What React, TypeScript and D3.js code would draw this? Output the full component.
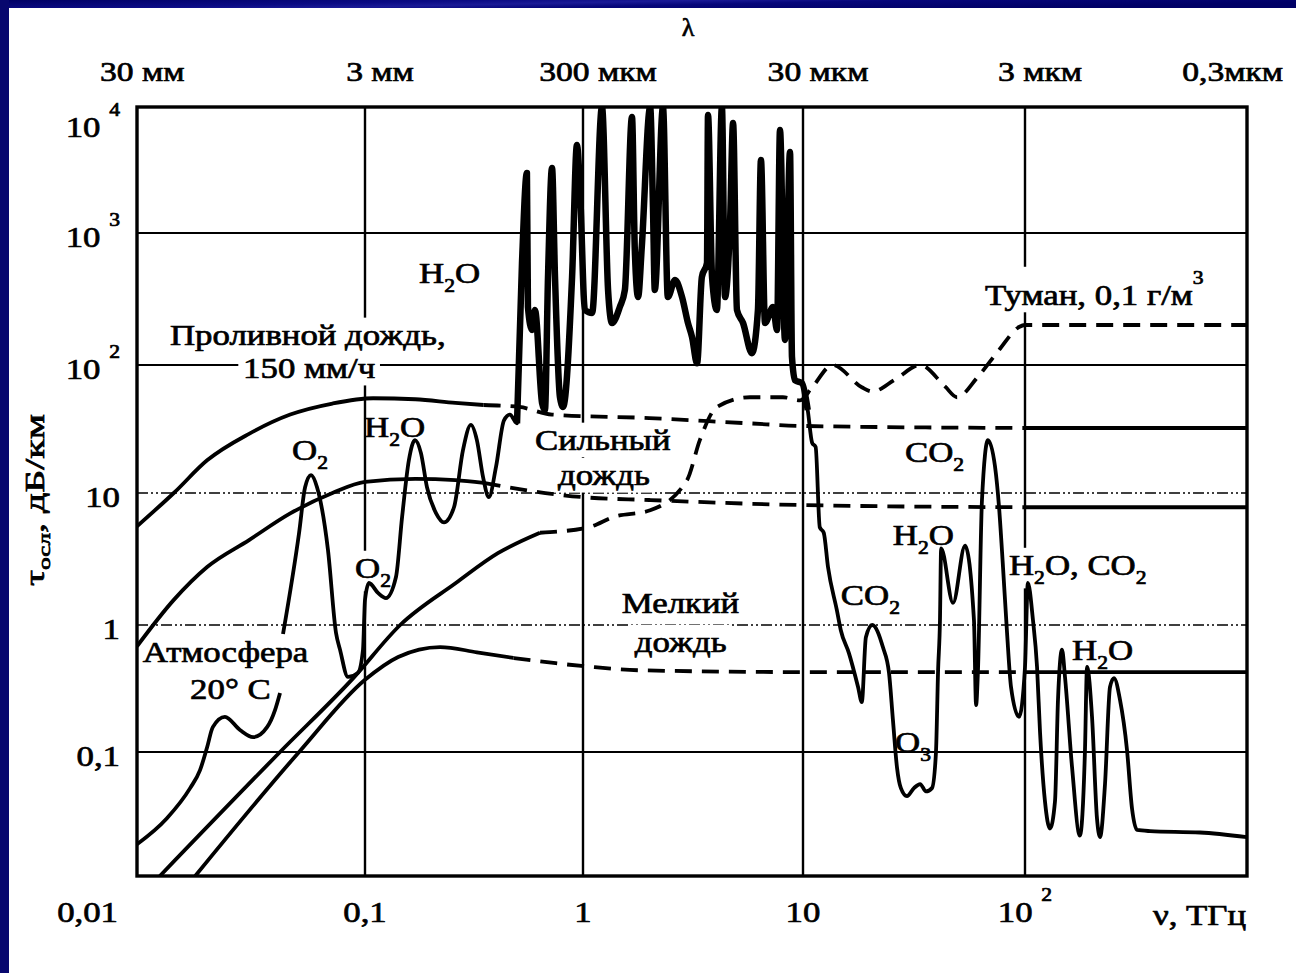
import React, { useEffect, useRef } from "react";
import * as d3 from "d3";

const W = 1296;
const H = 973;

// Axis calibration of the scanned figure (decade positions)
const xDecades = [0.01, 0.1, 1, 10, 100, 1000];
const xDecadePx = [137, 365, 583, 803, 1025, 1247];
const yDecades = [0.0106, 0.1, 1, 10, 100, 1000, 10000];
const yDecadePx = [876, 752, 625, 493, 365, 233, 107];

// Tick labels
const xTickValues = [0.01, 0.1, 1, 10, 100];
const xTickLabels = ["0,01", "0,1", "1", "10", "10 ^2"];
const yTickValues = [0.1, 1, 10, 100, 1000, 10000];
const yTickLabels = ["0,1", "1", "10", "10 ^2", "10 ^3", "10 ^4"];
const wavelengthValues = [0.01, 0.1, 1, 10, 100, 1000];
const wavelengthLabels = ["30 мм", "3 мм", "300 мкм", "30 мкм", "3 мкм", "0,3мкм"];
const dashDotGridValues = [1, 10];
const solidGridValues = [0.1, 100, 1000];
const verticalGridValues = [0.1, 1, 10, 100];

// Series: [frequency THz, attenuation dB/km]
const rainTorrential: [number, number][] = [
  [0.01, 5.6], [0.0145, 10], [0.0203, 18], [0.031, 29], [0.047, 41], [0.072, 50],
  [0.109, 55], [0.17, 54], [0.26, 50.5], [0.35, 48.7], [0.51, 47], [0.72, 41],
  [2.0, 38.5], [5.7, 35], [10, 33.4], [100, 32.2], [1000, 32.2],
];
const rainTorrentialDash = [0.35, 100];

const rainHeavy: [number, number][] = [
  [0.01, 0.68], [0.0145, 1.55], [0.0203, 2.75], [0.031, 4.4], [0.047, 7.0], [0.072, 10],
  [0.1, 12.2], [0.17, 12.9], [0.26, 12.6], [0.35, 12], [0.51, 10.7], [1.0, 9.3],
  [2.0, 8.85], [10, 8.1], [100, 7.8], [1000, 7.8],
];
const rainHeavyDash = [0.35, 100];

const rainLight: [number, number][] = [
  [0.018, 0.0106], [0.0514, 0.1], [0.1, 0.37], [0.142, 0.56], [0.221, 0.67], [0.326, 0.61],
  [0.48, 0.55], [0.75, 0.5], [1.06, 0.47], [1.8, 0.44], [10, 0.426], [100, 0.426], [1000, 0.426],
];
const rainLightDash = [0.48, 100];

const fog: [number, number][] = [
  [0.0126, 0.0106], [0.0424, 0.1], [0.0886, 0.38], [0.145, 1.0], [0.261, 2.08], [0.407, 3.5],
  [0.635, 5.0], [1.06, 5.5], [1.38, 6.6], [2.02, 7.4], [2.97, 12.6], [3.4, 26], [4.06, 47],
  [5.74, 56], [8.1, 56], [9.7, 53], [11, 67], [13.6, 100], [18.4, 67], [20.5, 62], [26, 77],
  [33.7, 100], [43.6, 68], [49.4, 56], [61.4, 81], [76.4, 130], [94, 194], [100, 201], [1000, 201],
];
const fogDash = [0.635, 1000];

const atmosphereLow: [number, number][] = [
  [0.01, 0.0188], [0.0135, 0.03], [0.0171, 0.052], [0.0189, 0.072], [0.0203, 0.109],
  [0.0215, 0.157], [0.0243, 0.189], [0.0283, 0.149], [0.0323, 0.131], [0.0372, 0.157],
  [0.0403, 0.214], [0.0424, 0.292],
];

const atmosphereHigh: [number, number][] = [
  [0.0437, 0.85], [0.0514, 5.0], [0.0546, 11.1], [0.058, 13.8], [0.0616, 11.1], [0.0688, 3.7],
  [0.0746, 0.87], [0.0777, 0.64], [0.0842, 0.39], [0.0931, 0.42], [0.098, 0.64], [0.1, 1.55],
  [0.1043, 2.08], [0.1147, 1.75], [0.1248, 1.6], [0.1387, 2.31], [0.148, 6.6], [0.159, 18.1],
  [0.1696, 25.9], [0.1806, 20.5], [0.1924, 11.1], [0.2117, 7.05], [0.2303, 6.0], [0.256, 7.8],
  [0.2816, 21.7], [0.306, 34], [0.326, 25.9], [0.348, 13.3], [0.37, 9.3], [0.399, 16],
  [0.434, 37], [0.462, 41], [0.498, 35], [0.525, 593], [0.553, 3000], [0.559, 275],
  [0.584, 184], [0.602, 261], [0.649, 50.5], [0.669, 44.5], [0.691, 464], [0.721, 3280],
  [0.744, 464], [0.784, 56], [0.81, 47], [0.891, 464], [0.938, 4990], [0.969, 2195],
  [1.02, 261], [1.1, 248], [1.22, 10000], [1.3, 370], [1.355, 208], [1.47, 275], [1.55, 370],
  [1.67, 8330], [1.72, 743], [1.78, 327], [1.85, 783], [2.02, 10000], [2.08, 1608],
  [2.12, 370], [2.31, 10000], [2.43, 327], [2.62, 440], [2.82, 327], [3.0, 208], [3.13, 163],
  [3.3, 103], [3.47, 464], [3.66, 593], [3.7, 8640], [3.86, 464], [4.06, 261], [4.28, 10000],
  [4.42, 327], [4.66, 1200], [4.81, 7465], [5.01, 261], [5.34, 208], [5.86, 123], [6.24, 261],
  [6.44, 3800], [6.72, 208], [7.31, 275], [7.62, 184], [7.86, 6570], [8.28, 155], [8.73, 4393],
  [8.91, 115], [9.2, 76], [9.9, 72], [10.5, 44.5], [11.0, 24.6], [11.4, 22.9], [11.9, 5.5],
  [12.4, 5.0], [12.96, 2.75], [14.2, 1.3], [14.8, 0.91], [16.1, 0.6], [17.7, 0.325],
  [18.4, 0.247], [19.2, 0.8], [20.5, 1.0], [22.9, 0.67], [24.4, 0.42], [25.4, 0.181],
  [26.5, 0.076], [27.6, 0.052], [29.4, 0.045], [31.6, 0.052], [33.7, 0.056], [35.8, 0.049],
  [38.1, 0.052], [39.7, 0.098], [40.6, 0.44], [41.4, 1.09], [41.9, 3.8], [47.4, 1.47],
  [53.7, 4.0], [58.9, 1.09], [60.2, 0.234], [61.4, 0.44], [64, 8.85], [68.1, 25.9],
  [73.3, 16], [76.4, 7.8], [79.6, 2.75], [83, 0.87], [86.5, 0.325], [94, 0.189],
  [100, 0.467], [103, 2.08], [108.6, 1.09], [113.3, 0.467], [116.9, 0.142], [123, 0.041],
  [129.6, 0.025], [136.5, 0.041], [140.8, 0.257], [146.8, 0.64], [151.4, 0.39], [162.9, 0.076],
  [176.7, 0.022], [186.3, 0.104], [190.3, 0.467], [200.4, 0.189], [211, 0.03], [217.8, 0.0214],
  [229.3, 0.056], [241.5, 0.325], [251.7, 0.382], [267.9, 0.257], [288, 0.104], [303.4, 0.036],
  [319.6, 0.0244], [365.6, 0.0239], [614, 0.0233], [1000, 0.0214],
];
// Dense sub-millimetre water-vapour line forest (drawn heavier, as in the scan)
const forestRange = [0.49, 10.6];

// Annotations anchored in data coordinates (start of text, baseline)
const annotations = [
  { text: "H_2O", f: 0.177, v: 418, knock: false },
  { text: "Проливной дождь,", f: 0.01395, v: 142, knock: true },
  { text: "150 мм/ч", f: 0.0292, v: 79, knock: true },
  { text: "O_2", f: 0.0479, v: 18.1, knock: false },
  { text: "H_2O", f: 0.099, v: 27.4, knock: false },
  { text: "O_2", f: 0.0904, v: 2.27, knock: true },
  { text: "Сильный", f: 0.602, v: 21.7, knock: true },
  { text: "дождь", f: 0.768, v: 11.5, knock: true },
  { text: "Мелкий", f: 1.5, v: 1.23, knock: true },
  { text: "дождь", f: 1.72, v: 0.613, knock: true },
  { text: "Атмосфера", f: 0.0106, v: 0.512, knock: true },
  { text: "20° C", f: 0.0171, v: 0.263, knock: false },
  { text: "Туман, 0,1 г/м^3", f: 66.1, v: 285, knock: true },
  { text: "CO_2", f: 28.8, v: 17.5, knock: true },
  { text: "H_2O", f: 25.4, v: 4.04, knock: true },
  { text: "H_2O, CO_2", f: 84.7, v: 2.39, knock: true },
  { text: "CO_2", f: 14.8, v: 1.42, knock: true },
  { text: "O_3", f: 26, v: 0.1, knock: false },
  { text: "H_2O", f: 162.9, v: 0.53, knock: true },
];

const FONT = '"Liberation Serif", "Times New Roman", Times, serif';
const NAVY = "#07076e";

type Seg = { t: string; k: "n" | "sub" | "sup" };
function parseMarkup(s: string): Seg[] {
  const out: Seg[] = [];
  let buf = "";
  let i = 0;
  while (i < s.length) {
    const c = s[i];
    if (c === "_" || c === "^") {
      if (buf) { out.push({ t: buf, k: "n" }); buf = ""; }
      let piece = "";
      if (s[i + 1] === "{") {
        const j = s.indexOf("}", i + 2);
        piece = s.slice(i + 2, j);
        i = j + 1;
      } else {
        piece = s[i + 1];
        i += 2;
      }
      out.push({ t: piece, k: c === "_" ? "sub" : "sup" });
    } else {
      buf += c;
      i++;
    }
  }
  if (buf) out.push({ t: buf, k: "n" });
  return out;
}

export default function App() {
  const ref = useRef<SVGSVGElement>(null);

  useEffect(() => {
    const svg = d3.select(ref.current);
    svg.selectAll("*").remove();

    const x = d3.scaleLog().domain(xDecades).range(xDecadePx);
    const y = d3.scaleLog().domain(yDecades).range(yDecadePx);
    const [x0, x1] = [x(0.01), x(1000)];
    const [yTop, yBot] = [y(10000), y(yDecades[0])];

    svg.append("rect").attr("width", W).attr("height", H).attr("fill", "#fff");
    const defs = svg.append("defs");
    const grad = defs.append("linearGradient").attr("id", "navy").attr("x1", "0").attr("x2", "1").attr("y1", "0").attr("y2", "0.3");
    grad.append("stop").attr("offset", "0").attr("stop-color", "#000064");
    grad.append("stop").attr("offset", "0.35").attr("stop-color", "#0b0b84");
    grad.append("stop").attr("offset", "0.5").attr("stop-color", "#1a1a96");
    grad.append("stop").attr("offset", "0.65").attr("stop-color", "#06067a");
    grad.append("stop").attr("offset", "1").attr("stop-color", "#000066");
    svg.append("rect").attr("x", 0).attr("y", 0).attr("width", W).attr("height", 8).attr("fill", "url(#navy)");
    svg.append("rect").attr("x", 0).attr("y", 0).attr("width", 9).attr("height", H).attr("fill", NAVY);

    defs.append("clipPath").attr("id", "plot").append("rect")
      .attr("x", x0).attr("y", yTop).attr("width", x1 - x0).attr("height", yBot - yTop);

    const grid = svg.append("g");
    const knock = svg.append("g");
    const frame = svg.append("g");
    const curves = svg.append("g").attr("clip-path", "url(#plot)");
    const texts = svg.append("g").attr("font-family", FONT).attr("fill", "#000")
      .attr("stroke", "#000").attr("stroke-width", 0.7);

    // grid
    verticalGridValues.forEach((v) => {
      grid.append("line").attr("x1", x(v)).attr("x2", x(v)).attr("y1", yTop).attr("y2", yBot)
        .attr("stroke", "#000").attr("stroke-width", 2.4);
    });
    solidGridValues.forEach((v) => {
      grid.append("line").attr("x1", x0).attr("x2", x1).attr("y1", y(v)).attr("y2", y(v))
        .attr("stroke", "#000").attr("stroke-width", 1.8);
    });
    dashDotGridValues.forEach((v) => {
      grid.append("line").attr("x1", x0).attr("x2", x1).attr("y1", y(v)).attr("y2", y(v))
        .attr("stroke", "#000").attr("stroke-width", 1.5).attr("stroke-dasharray", "11 3 2 3 2 3");
    });

    frame.append("rect").attr("x", x0).attr("y", yTop).attr("width", x1 - x0).attr("height", yBot - yTop)
      .attr("fill", "none").attr("stroke", "#000").attr("stroke-width", 3.4);

    // rich text helper
    function label(px: number, py: number, str: string, opts: { size?: number; anchor?: string; knock?: boolean; sx?: number } = {}) {
      const size = opts.size ?? 29;
      const sx = opts.sx ?? 1.2;
      const tf = `translate(${px},${py}) scale(${sx},1)`;
      const g = texts.append("g").attr("transform", tf);
      const t = g.append("text").attr("text-anchor", opts.anchor ?? "start").attr("font-size", size);
      let cur = 0;
      parseMarkup(str).forEach((s) => {
        const want = s.k === "sub" ? 0.3 * size : s.k === "sup" ? -0.72 * size : 0;
        const ts = t.append("tspan").text(s.t).attr("dy", want - cur);
        if (s.k !== "n") ts.attr("font-size", size * 0.62);
        cur = want;
      });
      if (opts.knock) {
        const b = (t.node() as SVGTextElement).getBBox();
        knock.append("g").attr("transform", tf).append("rect")
          .attr("x", b.x - 4).attr("y", b.y - 1).attr("width", b.width + 8).attr("height", b.height + 2)
          .attr("fill", "#fff");
      }
      return t;
    }

    // curves
    const line = d3.line<[number, number]>().x((d) => x(d[0])).y((d) => y(d[1])).curve(d3.curveMonotoneX);
    function series(pts: [number, number][], dash?: number[], width = 3.8) {
      const parts = dash
        ? [
            { p: pts.filter((d) => d[0] <= dash[0]), dashed: false },
            { p: pts.filter((d) => d[0] >= dash[0] && d[0] <= dash[1]), dashed: true },
            { p: pts.filter((d) => d[0] >= dash[1]), dashed: false },
          ]
        : [{ p: pts, dashed: false }];
      parts.forEach(({ p, dashed }) => {
        if (p.length < 2) return;
        const path = curves.append("path").attr("d", line(p) as string).attr("fill", "none")
          .attr("stroke", "#000").attr("stroke-width", width).attr("stroke-linejoin", "round");
        if (dashed) path.attr("stroke-dasharray", "17 10");
      });
    }
    series(rainTorrential, rainTorrentialDash);
    series(rainHeavy, rainHeavyDash);
    series(rainLight, rainLightDash);
    series(fog, fogDash);
    series(atmosphereLow);
    series(atmosphereHigh);
    series(atmosphereHigh.filter((d) => d[0] >= forestRange[0] && d[0] <= forestRange[1]), undefined, 6.5);

    // annotations
    annotations.forEach((a) => label(x(a.f), y(a.v), a.text, { knock: a.knock }));

    // ticks
    yTickValues.forEach((v, i) => {
      const by = v === 10000 ? y(v) + 30 : y(v) + 14;
      label(120, by, yTickLabels[i], { anchor: "end" });
    });
    xTickValues.forEach((v, i) => {
      if (i === 0) label(x(v) - 19, 922, xTickLabels[i], { anchor: "end" });
      else label(x(v), 922, xTickLabels[i], { anchor: "middle" });
    });
    label(x1 - 1, 925, "ν, ТГц", { anchor: "end" });

    wavelengthValues.forEach((v, i) => {
      const n = wavelengthValues.length;
      if (i === 0) label(x(v) - 37, 81, wavelengthLabels[i], { anchor: "start", size: 28 });
      else if (i === n - 1) label(x(v) + 36, 81, wavelengthLabels[i], { anchor: "end", size: 28 });
      else label(x(v) + 15, 81, wavelengthLabels[i], { anchor: "middle", size: 28 });
    });
    label((x(1) + x(10)) / 2 - 5, 36, "λ", { anchor: "middle", size: 26, sx: 1 });

    // y-axis title
    const yt = texts.append("text").attr("transform", "translate(44,500) rotate(-90)")
      .attr("text-anchor", "middle").attr("font-size", 27)
      .attr("textLength", 172).attr("lengthAdjust", "spacingAndGlyphs");
    yt.append("tspan").text("τ");
    yt.append("tspan").text("осл").attr("font-size", 17).attr("dy", 6);
    yt.append("tspan").text(", дБ/км").attr("dy", -6);
  }, []);

  return (
    <svg
      ref={ref}
      width={W}
      height={H}
      style={{ position: "absolute", left: 0, top: 0, display: "block" }}
    />
  );
}
